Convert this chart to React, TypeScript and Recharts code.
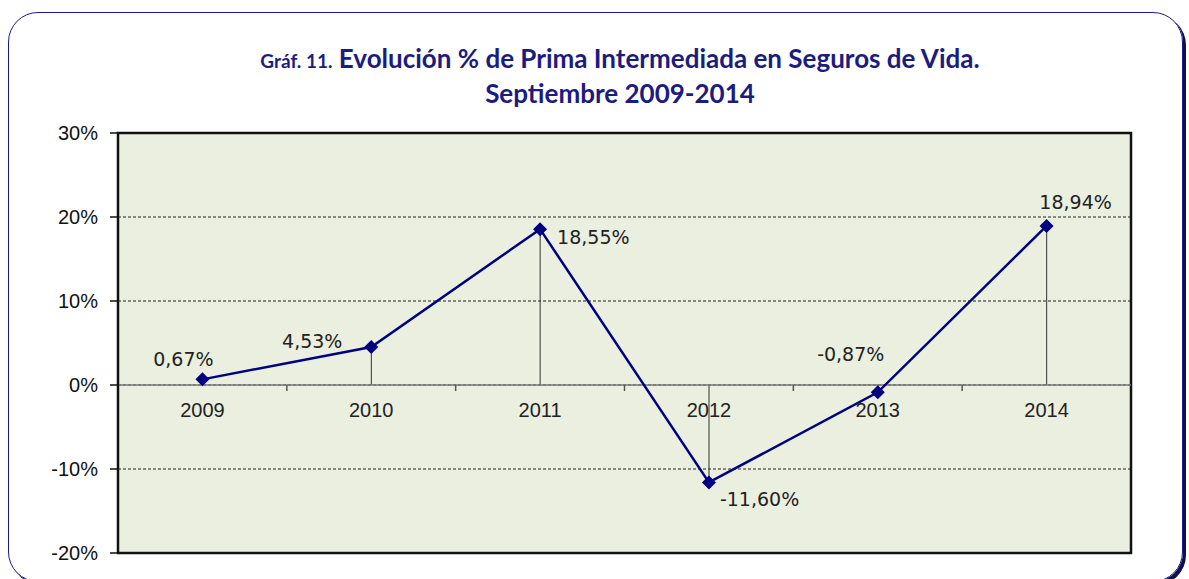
import React from 'react';
import {
    ComposedChart,
    Line,
    Bar,
    XAxis,
    YAxis,
    CartesianGrid,
    ReferenceLine,
    ReferenceArea,
    LabelList
} from 'recharts';

const years = ['2009', '2010', '2011', '2012', '2013', '2014'];
const growth = [0.67, 4.53, 18.55, -11.6, -0.87, 18.94];
const yTicks = [-20, -10, 0, 10, 20, 30];

const data = years.map((year, i) => ({ year, value: growth[i] }));

const W = 1189;
const H = 579;
const PLOT_LEFT = 118;
const PLOT_RIGHT = 1131;
const PLOT_TOP = 133;
const PLOT_BOTTOM = 553;
const X_AXIS_H = 20;
const Y_MIN = -20;
const Y_MAX = 30;
const ZERO_Y = PLOT_TOP + (Y_MAX / (Y_MAX - Y_MIN)) * (PLOT_BOTTOM - PLOT_TOP);
const BAND = (PLOT_RIGHT - PLOT_LEFT) / years.length;

const fmt = (v: number) => v.toFixed(2).replace('.', ',') + '%';

// Diamond marker
const Diamond = (props: any) => {
    const { cx, cy } = props;
    if (cx == null || cy == null) return null;
    const r = 7;
    return (
        <polygon
            points={`${cx},${cy - r} ${cx + r},${cy} ${cx},${cy + r} ${cx - r},${cy}`}
            fill="#000080"
        />
    );
};

// category labels sit under the 0% line, not under the plot
const renderYearTick = (props: any) => {
    const { x, payload, index } = props;
    return (
        <g key={`yt-${index}`}>
            <text
                x={x}
                y={ZERO_Y + 32}
                textAnchor="middle"
                fontFamily="'Liberation Sans', Arial, sans-serif"
                fontSize={20}
                fill="#222"
            >
                {payload.value}
            </text>
            {index > 0 && (
                <line x1={x - BAND / 2} x2={x - BAND / 2} y1={ZERO_Y} y2={ZERO_Y + 6} stroke="#555" strokeWidth={1.5} />
            )}
        </g>
    );
};

const PointLabel = (props: any) => {
    const { x, y, index, value } = props;
    // placement per point, as in the original
    const place: Record<number, { dx: number; dy: number; anchor: string }> = {
        0: { dx: -19, dy: -13, anchor: 'middle' },
        1: { dx: -59, dy: 1, anchor: 'middle' },
        2: { dx: 17, dy: 15, anchor: 'start' },
        3: { dx: 11, dy: 24, anchor: 'start' },
        4: { dx: -27, dy: -31, anchor: 'middle' },
        5: { dx: 29, dy: -17, anchor: 'middle' }
    };
    const p = place[index] || { dx: 0, dy: -12, anchor: 'middle' };
    return (
        <text
            x={x + p.dx}
            y={y + p.dy}
            textAnchor={p.anchor as any}
            fontFamily="'DejaVu Sans', Tahoma, sans-serif"
            fontSize={19}
            fill="#222"
        >
            {fmt(value)}
        </text>
    );
};

const App = () => {
    return (
        <div style={{ position: 'absolute', left: 0, top: 0, width: W, height: H, background: '#fff', overflow: 'hidden' }}>
            <div
                style={{
                    position: 'absolute',
                    left: 8,
                    top: 12,
                    width: 1175,
                    height: 570,
                    border: '1.5px solid #1a1a8c',
                    borderRadius: 30,
                    boxShadow: '3px 3px 0 #10104a',
                    boxSizing: 'border-box'
                }}
            />
            <div
                style={{
                    position: 'absolute',
                    left: 0,
                    top: 42,
                    width: 1240,
                    textAlign: 'center',
                    fontFamily: 'Lato, Calibri, sans-serif',
                    fontWeight: 'bold',
                    color: '#1c1c80',
                    fontSize: 26,
                    lineHeight: '32px'
                }}
            >
                <div>
                    <span style={{ fontSize: 19 }}>Gráf. 11.</span> Evolución % de Prima Intermediada en Seguros de Vida.
                </div>
                <div>Septiembre 2009-2014</div>
            </div>
            <div style={{ position: 'absolute', left: 0, top: 0 }}>
                <ComposedChart
                    width={W}
                    height={H}
                    data={data}
                    margin={{ top: PLOT_TOP, right: W - PLOT_RIGHT, bottom: H - PLOT_BOTTOM - X_AXIS_H, left: 0 }}
                >
                    <CartesianGrid
                        vertical={false}
                        fill="#EBEFDF"
                        stroke="#222"
                        strokeDasharray="3 2"
                        strokeWidth={1}
                    />
                    <XAxis
                        dataKey="year"
                        height={X_AXIS_H}
                        axisLine={false}
                        tickLine={false}
                        interval={0}
                        tick={renderYearTick}
                    />
                    <YAxis
                        width={PLOT_LEFT}
                        domain={[Y_MIN, Y_MAX]}
                        ticks={yTicks}
                        tickFormatter={(v: number) => `${v}%`}
                        axisLine={{ stroke: '#111', strokeWidth: 2 }}
                        tickLine={{ stroke: '#111', strokeWidth: 1.5 }}
                        tickSize={8}
                        tick={{ fill: '#111', fontSize: 20, fontFamily: "'Liberation Sans', Arial, sans-serif" }}
                        tickMargin={12}
                    />
                    <ReferenceLine y={0} stroke="#7a7a7a" strokeWidth={1.5} />
                    <ReferenceArea y1={Y_MIN} y2={Y_MAX} fill="none" fillOpacity={0} stroke="#111" strokeWidth={2.5} ifOverflow="visible" />
                    <Bar dataKey="value" barSize={1} fill="#333" isAnimationActive={false} />
                    <Line
                        type="linear"
                        dataKey="value"
                        stroke="#000080"
                        strokeWidth={2.5}
                        dot={<Diamond />}
                        activeDot={false}
                        isAnimationActive={false}
                    >
                        <LabelList dataKey="value" content={<PointLabel />} />
                    </Line>
                </ComposedChart>
            </div>
        </div>
    );
};

export default App;
